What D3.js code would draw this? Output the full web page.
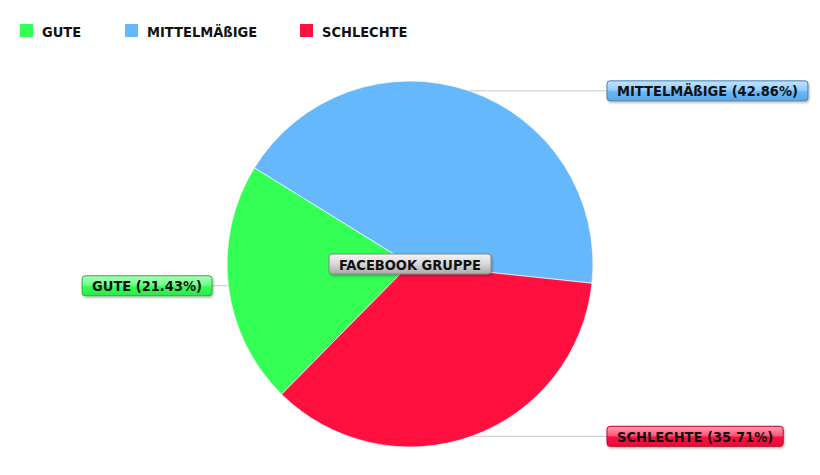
<!DOCTYPE html>
<html>
<head>
<meta charset="utf-8">
<script src="https://cdn.jsdelivr.net/npm/d3@7"></script>
<style>
  body { margin: 0; background: #fff; }
  text { font-family: "DejaVu Sans Condensed", "DejaVu Sans", sans-serif; font-weight: bold; }
</style>
</head>
<body>
<div id="chart"></div>
<script>
const width = 820,
  height = 475,
  radius = 183,
  center = { x: 410, y: 264 };

// data
const categories = ["GUTE", "MITTELMÄßIGE", "SCHLECHTE"];
const values = [3, 6, 5];
const colors = ["#33ff55", "#66b8fc", "#ff103f"];
const title = "FACEBOOK GRUPPE";

const total = d3.sum(values);
const data = categories.map((c, i) => ({ name: c, value: values[i], color: colors[i] }));

const svg = d3.select("#chart")
  .append("svg")
  .attr("width", width)
  .attr("height", height);

const defs = svg.append("defs");

// glossy gradient per colour
data.forEach((d, i) => {
  const g = defs.append("linearGradient")
    .attr("id", "grad" + i)
    .attr("x1", 0).attr("y1", 0).attr("x2", 0).attr("y2", 1);
  g.append("stop").attr("offset", "0%").attr("stop-color", d3.interpolateRgb(d.color, "#fff")(0.6));
  g.append("stop").attr("offset", "45%").attr("stop-color", d3.interpolateRgb(d.color, "#fff")(0.3));
  g.append("stop").attr("offset", "55%").attr("stop-color", d.color);
  g.append("stop").attr("offset", "100%").attr("stop-color", d3.interpolateRgb(d.color, "#000")(0.1));
});
const gg = defs.append("linearGradient")
  .attr("id", "gradGrey")
  .attr("x1", 0).attr("y1", 0).attr("x2", 0).attr("y2", 1);
gg.append("stop").attr("offset", "0%").attr("stop-color", "#f4f4f4");
gg.append("stop").attr("offset", "50%").attr("stop-color", "#d8d8d8");
gg.append("stop").attr("offset", "100%").attr("stop-color", "#a8a8a8");

const shadow = defs.append("filter").attr("id", "shadow")
  .attr("x", "-10%").attr("y", "-20%").attr("width", "130%").attr("height", "160%");
shadow.append("feDropShadow")
  .attr("dx", 1).attr("dy", 1.5).attr("stdDeviation", 1)
  .attr("flood-color", "#000").attr("flood-opacity", 0.3);

// legend
const legendX = d3.scaleOrdinal().domain(categories).range([20, 125, 300]);
const legend = svg.append("g")
  .selectAll("g")
  .data(data)
  .join("g")
  .attr("transform", d => `translate(${legendX(d.name)},24)`);
legend.append("rect")
  .attr("width", 13).attr("height", 13)
  .attr("fill", d => d.color);
legend.append("text")
  .attr("x", 22).attr("y", 12.5)
  .attr("font-size", 14.5)
  .attr("fill", "#111")
  .text(d => d.name);

// pie
const start = 224.6 * Math.PI / 180;
const pie = d3.pie()
  .sort(null)
  .value(d => d.value)
  .startAngle(start)
  .endAngle(start + 2 * Math.PI);
const arcs = pie(data);
const arc = d3.arc().innerRadius(0).outerRadius(radius);

const g = svg.append("g").attr("transform", `translate(${center.x},${center.y})`);
g.selectAll("path")
  .data(arcs)
  .join("path")
  .attr("d", arc)
  .attr("fill", d => d.data.color)
  .attr("stroke", "#fff")
  .attr("stroke-width", 0.7);

// callouts
function labelBox(parent, x, y, txt, fill, stroke, anchor) {
  const box = parent.append("g");
  const t = box.append("text")
    .attr("font-size", 14.5)
    .attr("fill", "#111")
    .attr("y", y + 5.5)
    .text(txt);
  const w = t.node().getComputedTextLength() + 20;
  const left = anchor === "end" ? x - w : (anchor === "middle" ? x - w / 2 : x);
  t.attr("x", left + 10);
  box.insert("rect", "text")
    .attr("x", left).attr("y", y - 10)
    .attr("width", w).attr("height", 20)
    .attr("rx", 3)
    .attr("fill", fill)
    .attr("stroke", stroke)
    .attr("stroke-width", 1)
    .attr("filter", "url(#shadow)");
}

const callouts = svg.append("g");
arcs.forEach((a, i) => {
  const mid = (a.startAngle + a.endAngle) / 2;
  const px = center.x + radius * Math.sin(mid);
  const py = center.y - radius * Math.cos(mid);
  const right = Math.sin(mid) > 0;
  const bx = right ? center.x + radius + 14 : center.x - radius - 15;
  callouts.append("line")
    .attr("x1", px).attr("y1", py)
    .attr("x2", bx).attr("y2", py)
    .attr("stroke", "#c8c8c8")
    .attr("stroke-width", 1);
  const pct = (a.data.value / total * 100).toFixed(2);
  labelBox(callouts, bx, py, `${a.data.name} (${pct}%)`, `url(#grad${i})`,
    d3.interpolateRgb(a.data.color, "#000")(0.3), right ? "start" : "end");
});

// centre title
labelBox(svg, center.x, center.y, title, "url(#gradGrey)", "#888", "middle");
</script>
</body>
</html>
